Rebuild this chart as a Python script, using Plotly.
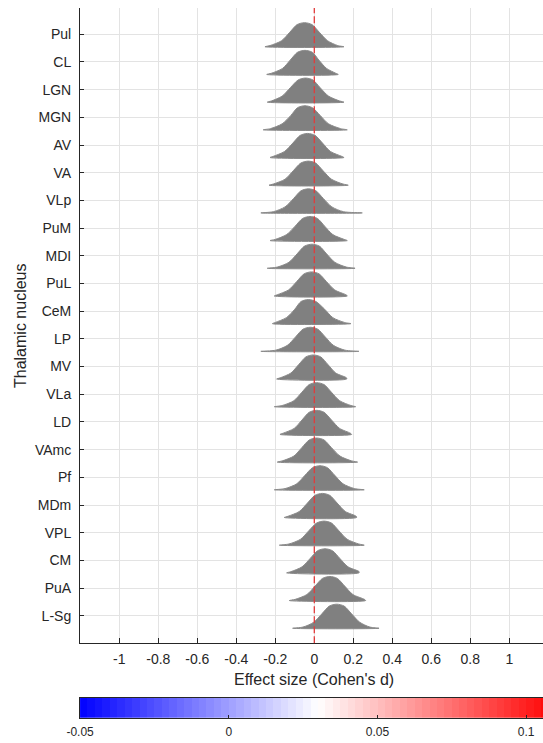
import numpy as np
import plotly.graph_objects as go

nuclei = ["Pul", "CL", "LGN", "MGN", "AV", "VA", "VLp", "PuM", "MDI", "PuL", "CeM",
          "LP", "MV", "VLa", "LD", "VAmc", "Pf", "MDm", "VPL", "CM", "PuA", "L-Sg"]

# x positions (Cohen's d) for each distribution,
# at fixed relative heights of its histogram (see `levels`)
mode     = [-0.050, -0.048, -0.045, -0.048, -0.034, -0.031, -0.030, -0.022, -0.012, -0.014, -0.030,
            -0.020, -0.005, 0.012, 0.012, 0.012, 0.029, 0.041, 0.050, 0.055, 0.080, 0.115]
tail_lo  = [-0.253, -0.244, -0.241, -0.262, -0.227, -0.232, -0.274, -0.227, -0.241, -0.205, -0.215,
            -0.274, -0.193, -0.205, -0.176, -0.190, -0.205, -0.154, -0.179, -0.142, -0.128, -0.111]
tail_hi  = [0.152, 0.123, 0.152, 0.169, 0.152, 0.174, 0.246, 0.169, 0.209, 0.169, 0.188,
            0.229, 0.166, 0.212, 0.191, 0.222, 0.256, 0.217, 0.256, 0.229, 0.263, 0.332]
foot_lo  = [-0.227, -0.220, -0.220, -0.225, -0.210, -0.210, -0.210, -0.200, -0.190, -0.190, -0.200,
            -0.197, -0.175, -0.165, -0.160, -0.165, -0.150, -0.135, -0.130, -0.120, -0.098, -0.058]
quart_lo = [-0.168, -0.163, -0.165, -0.165, -0.153, -0.150, -0.150, -0.142, -0.130, -0.132, -0.143,
            -0.138, -0.120, -0.105, -0.103, -0.105, -0.090, -0.077, -0.070, -0.063, -0.038, -0.003]
shoul_lo = [-0.126, -0.123, -0.123, -0.120, -0.110, -0.108, -0.106, -0.098, -0.088, -0.090, -0.100,
            -0.096, -0.080, -0.064, -0.063, -0.064, -0.048, -0.035, -0.028, -0.021, 0.004, 0.039]
top_lo   = [-0.088, -0.086, -0.083, -0.086, -0.072, -0.069, -0.068, -0.060, -0.050, -0.052, -0.068,
            -0.058, -0.043, -0.026, -0.026, -0.026, -0.009, 0.003, 0.012, 0.017, 0.042, 0.077]
top_hi   = [-0.012, -0.010, -0.007, -0.010, 0.004, 0.007, 0.008, 0.016, 0.026, 0.024, 0.008,
            0.018, 0.033, 0.050, 0.050, 0.050, 0.067, 0.079, 0.088, 0.093, 0.118, 0.153]
shoul_hi = [0.026, 0.023, 0.030, 0.030, 0.042, 0.045, 0.046, 0.053, 0.063, 0.062, 0.053,
            0.056, 0.070, 0.088, 0.088, 0.088, 0.105, 0.117, 0.126, 0.131, 0.156, 0.191]
quart_hi = [0.068, 0.063, 0.073, 0.073, 0.083, 0.088, 0.090, 0.095, 0.105, 0.105, 0.095,
            0.098, 0.110, 0.130, 0.130, 0.132, 0.147, 0.159, 0.168, 0.173, 0.198, 0.233]
foot_hi  = [0.120, 0.110, 0.130, 0.135, 0.140, 0.147, 0.150, 0.153, 0.165, 0.162, 0.155,
            0.157, 0.165, 0.188, 0.185, 0.192, 0.206, 0.215, 0.228, 0.230, 0.257, 0.285]
levels = [0.0, 0.05, 0.25, 0.6, 0.92, 1.0, 0.92, 0.6, 0.25, 0.05, 0.0, 0.0]

x_ticks = [-1, -0.8, -0.6, -0.4, -0.2, 0, 0.2, 0.4, 0.6, 0.8, 1]
x_ticklabels = ["-1", "-0.8", "-0.6", "-0.4", "-0.2", "0", "0.2", "0.4", "0.6", "0.8", "1"]
cbar_ticks = [-0.05, 0, 0.05, 0.1]
cbar_ticklabels = ["-0.05", "0", "0.05", "0.1"]
cbar_min, cbar_max = -0.05, 0.11

W, H = 543, 743
FONT = "Liberation Sans, Arial, sans-serif"
DARK = "#262626"
GRID = "#e3e3e3"

fig = go.Figure()

BASE = 0.45    # baseline offset below the tick, in rows
AMP = 0.87     # peak height, in rows
for i, name in enumerate(nuclei):
    xs = [tail_lo[i], foot_lo[i], quart_lo[i], shoul_lo[i], top_lo[i], mode[i],
          top_hi[i], shoul_hi[i], quart_hi[i], foot_hi[i], tail_hi[i], tail_lo[i]]
    ys = [i + BASE - AMP * lv for lv in levels]
    fig.add_trace(go.Scatter(
        x=xs, y=ys, mode="lines", fill="toself", fillcolor="#808080",
        line=dict(color="#8a8a8a", width=1, shape="spline", smoothing=0.8),
        hoverinfo="skip", showlegend=False, xaxis="x", yaxis="y"))

# colorbar as a gradient strip
nb = 64
edges = np.linspace(cbar_min, cbar_max, nb + 1)
centers = (edges[:-1] + edges[1:]) / 2
fig.add_trace(go.Heatmap(
    x=edges.tolist(), y=[-0.5, 0.5], z=[centers.tolist()], zmin=cbar_min, zmax=cbar_max,
    colorscale=[[0, "#0000ff"], [0.5, "#ffffff"], [1, "#ff0000"]],
    showscale=False, hoverinfo="skip", xaxis="x2", yaxis="y2"))

# plot geometry in pixels
L_px, R_px = 80, 543
T_px, B_px = 8, 643.3
row_px = 27.69
top_row = 34.3
x0_px = 314.3
ppu = 195.0

xr = [(L_px - x0_px) / ppu, (R_px - x0_px) / ppu]
yr = [21 + (B_px - (top_row + 21 * row_px)) / row_px, -(top_row - T_px) / row_px]

cb_ppu = 148.7 / 0.05
cbr = [-0.05002, -0.05 + (R_px - 80) / cb_ppu]

fig.add_shape(type="line", xref="x", yref="y", x0=0, x1=0, y0=yr[0], y1=yr[1],
              line=dict(color="#e23a3a", width=1.3, dash="7px,3px"), layer="above")

fig.update_layout(
    width=W, height=H, margin=dict(l=0, r=0, t=0, b=0, pad=0, autoexpand=False),
    paper_bgcolor="white", plot_bgcolor="white",
    font=dict(family=FONT, color=DARK, size=14),
    xaxis=dict(domain=[L_px / W, R_px / W], range=xr, tickvals=x_ticks, ticktext=x_ticklabels,
               showgrid=True, gridcolor=GRID, gridwidth=1, zeroline=False, automargin=False,
               showline=True, linecolor=DARK, linewidth=1, ticks="inside", ticklen=5,
               tickcolor=DARK, tickfont=dict(size=14, color=DARK), ticklabelstandoff=3,
               anchor="y"),
    yaxis=dict(domain=[1 - B_px / H, 1 - T_px / H], range=yr, tickvals=list(range(len(nuclei))),
               ticktext=nuclei, showgrid=True, gridcolor=GRID, gridwidth=1, zeroline=False,
               automargin=False,
               showline=True, linecolor=DARK, linewidth=1, ticks="inside", ticklen=4,
               tickcolor=DARK, tickfont=dict(size=14, color=DARK), ticklabelstandoff=5,
               anchor="x"),
    xaxis2=dict(domain=[80 / W, 1.0], range=cbr, tickvals=cbar_ticks, ticktext=cbar_ticklabels,
                showgrid=False, zeroline=False, showline=True, mirror=True, linecolor=DARK,
                automargin=False,
                linewidth=1, ticks="inside", ticklen=3, tickcolor=DARK,
                tickfont=dict(size=12, color=DARK), ticklabelstandoff=3, anchor="y2"),
    yaxis2=dict(domain=[1 - 717.7 / H, 1 - 698 / H], range=[-0.5, 0.5], showticklabels=False,
                showgrid=False, zeroline=False, showline=True, linecolor=DARK, linewidth=1,
                automargin=False, ticks="", anchor="x2"),
    annotations=[
        dict(text="Effect size (Cohen's d)", xref="paper", yref="paper",
             x=314 / W, y=1 - 679 / H, showarrow=False, font=dict(size=16, color=DARK),
             xanchor="center", yanchor="middle"),
        dict(text="Thalamic nucleus", xref="paper", yref="paper",
             x=20 / W, y=1 - 326 / H, showarrow=False, textangle=-90,
             font=dict(size=16, color=DARK), xanchor="center", yanchor="middle"),
    ],
)

fig.write_html("out.html", config={"displayModeBar": False},
               post_script="document.body.style.margin='0';document.body.style.overflow='hidden';")
